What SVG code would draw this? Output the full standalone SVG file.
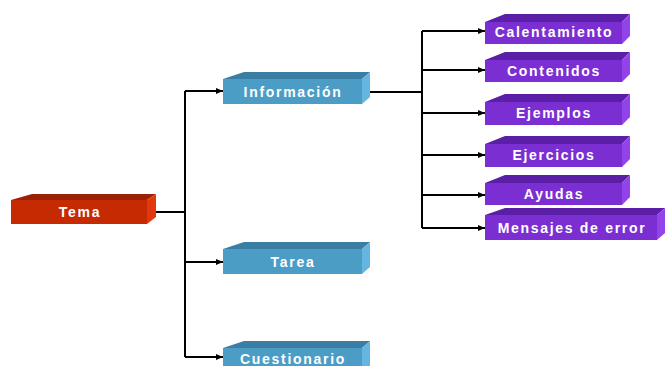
<svg xmlns="http://www.w3.org/2000/svg" width="665" height="366" viewBox="0 0 665 366">
<defs>
<marker id="arr" markerWidth="8" markerHeight="8" refX="7" refY="4" orient="auto" markerUnits="userSpaceOnUse">
<path d="M0,1 L7,4 L0,7 Z" fill="#000"/>
</marker>
<style>
.t{font-family:"Liberation Sans",Arial,sans-serif;font-weight:bold;font-size:14px;fill:#fff;text-anchor:middle;letter-spacing:1.7px}
.ln{fill:none;stroke:#000;stroke-width:2}
.a{marker-end:url(#arr)}
.rf{fill:#c62a02}.rt{fill:#9c2104}.rr{fill:#e2380e}
.bf{fill:#4b9dc6}.bt{fill:#3a7ea5}.br{fill:#64b6e0}
.pf{fill:#7b2fd3}.pt{fill:#5b1ea6}.pr{fill:#9244ea}
</style>
</defs>
<rect width="665" height="366" fill="#fff"/>
<g id="connectors">
<path class="ln" d="M147,212 H185 M185,91 V357"/>
<path class="ln a" d="M185,91 H223"/>
<path class="ln a" d="M185,262 H223"/>
<path class="ln a" d="M185,357 H223"/>
<path class="ln" d="M362,92 H422 M422,31 V228"/>
<path class="ln a" d="M422,31 H485"/>
<path class="ln a" d="M422,70 H485"/>
<path class="ln a" d="M422,113 H485"/>
<path class="ln a" d="M422,155 H485"/>
<path class="ln a" d="M422,195 H485"/>
<path class="ln a" d="M422,228 H485"/>
</g>
<g id="tema">
<polygon class="rt" points="11,200 32,194 156,194 147,200"/>
<polygon class="rr" points="147,200 156,194 156,217 147,224"/>
<rect class="rf" x="11" y="200" width="136" height="24"/>
<text class="t" x="80" y="217">Tema</text>
</g>
<g id="informacion">
<polygon class="bt" points="223,79 244,72 370,72 362,79"/>
<polygon class="br" points="362,79 370,72 370,97 362,104"/>
<rect class="bf" x="223" y="79" width="139" height="25"/>
<text class="t" x="293" y="97">Información</text>
</g>
<g id="tarea">
<polygon class="bt" points="223,249 244,242 370,242 362,249"/>
<polygon class="br" points="362,249 370,242 370,267 362,274"/>
<rect class="bf" x="223" y="249" width="139" height="25"/>
<text class="t" x="293" y="267">Tarea</text>
</g>
<g id="cuestionario">
<polygon class="bt" points="223,348 244,341 370,341 362,348"/>
<polygon class="br" points="362,348 370,341 370,366 362,373"/>
<rect class="bf" x="223" y="348" width="139" height="25"/>
<text class="t" x="293" y="364">Cuestionario</text>
</g>
<g id="calentamiento">
<polygon class="pt" points="485,22 505,14 630,14 622,22"/>
<polygon class="pr" points="622,22 630,14 630,36 622,44"/>
<rect class="pf" x="485" y="22" width="137" height="22"/>
<text class="t" x="554" y="37">Calentamiento</text>
</g>
<g id="contenidos">
<polygon class="pt" points="485,60 505,52 630,52 622,60"/>
<polygon class="pr" points="622,60 630,52 630,74 622,82"/>
<rect class="pf" x="485" y="60" width="137" height="22"/>
<text class="t" x="554" y="76">Contenidos</text>
</g>
<g id="ejemplos">
<polygon class="pt" points="485,102 505,94 630,94 622,102"/>
<polygon class="pr" points="622,102 630,94 630,117 622,125"/>
<rect class="pf" x="485" y="102" width="137" height="23"/>
<text class="t" x="554" y="118">Ejemplos</text>
</g>
<g id="ejercicios">
<polygon class="pt" points="485,144 505,136 630,136 622,144"/>
<polygon class="pr" points="622,144 630,136 630,159 622,167"/>
<rect class="pf" x="485" y="144" width="137" height="23"/>
<text class="t" x="554" y="160">Ejercicios</text>
</g>
<g id="ayudas">
<polygon class="pt" points="485,183 505,175 630,175 622,183"/>
<polygon class="pr" points="622,183 630,175 630,197 622,205"/>
<rect class="pf" x="485" y="183" width="137" height="22"/>
<text class="t" x="554" y="199">Ayudas</text>
</g>
<g id="mensajes">
<polygon class="pt" points="485,215 505,208 665,208 657,215"/>
<polygon class="pr" points="657,215 665,208 665,233 657,240"/>
<rect class="pf" x="485" y="215" width="172" height="25"/>
<text class="t" x="572" y="233">Mensajes de error</text>
</g>
</svg>
